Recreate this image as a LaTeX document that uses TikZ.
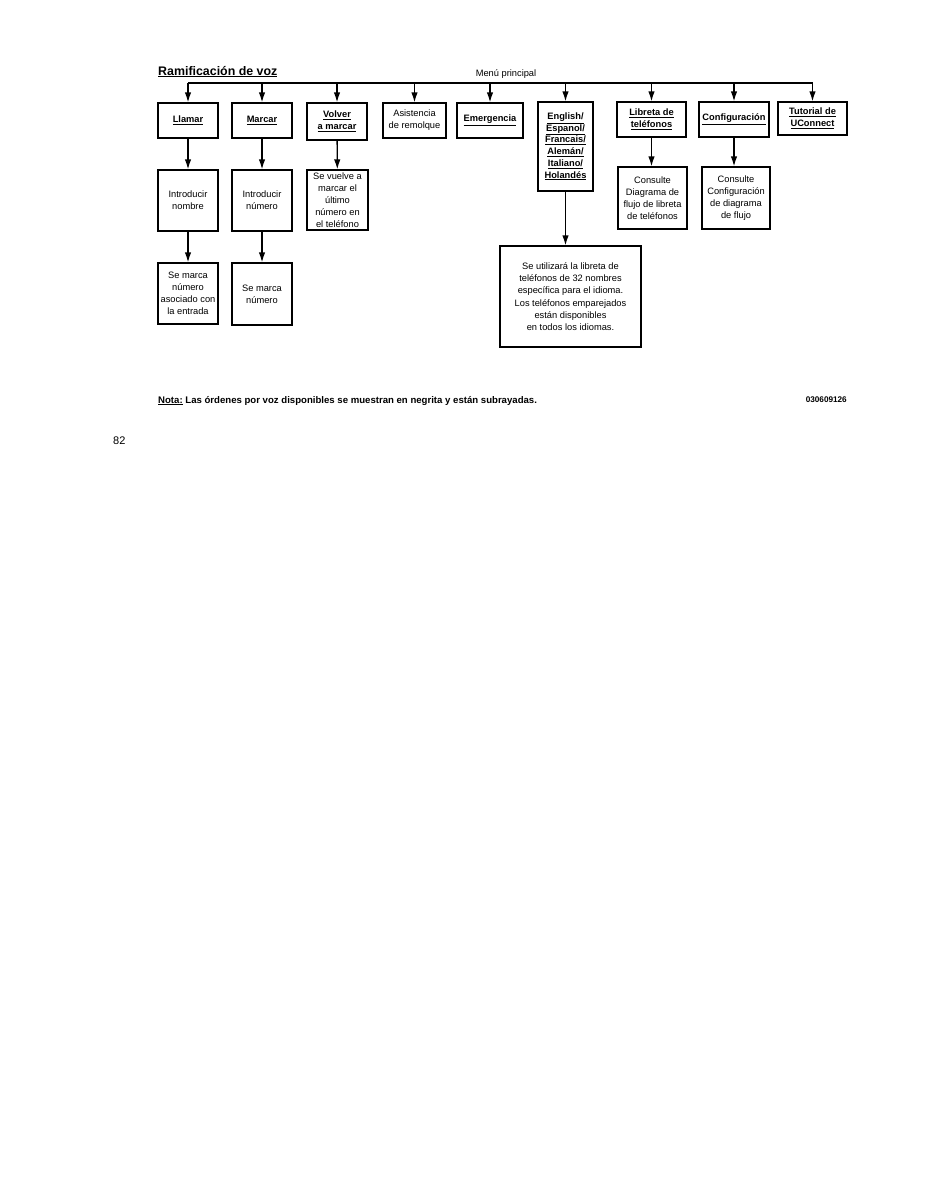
\documentclass[tikz,border=0pt]{standalone}
\usepackage{fontspec}
\setmainfont{Liberation Sans}
\usetikzlibrary{arrows.meta}
\begin{document}
\begin{tikzpicture}[x=1pt,y=-1pt,
  box/.style={draw,line width=1.3pt,align=center,inner sep=0pt,font=\fontsize{9.3}{12}\selectfont},
  bbox/.style={box,font=\fontsize{9.3}{11.7}\selectfont\bfseries},
  arr/.style={line width=1.3pt,-{Latex[length=10pt,width=6.5pt]}},
  ln/.style={line width=1.3pt}]
\useasboundingbox (0,0) rectangle (927,1200);
% title and labels
\node[anchor=base west,inner sep=0pt,font=\fontsize{12.4}{14}\selectfont\bfseries] (title) at (158,75) {\underline{Ramificación de voz}};
\node[anchor=base,inner sep=0pt,font=\fontsize{9.3}{10}\selectfont] (menu) at (506,76) {Menú principal};
% row 1
\node[bbox,minimum width=60,minimum height=35] (llamar) at (188,120.5) {\underline{Llamar}};
\node[bbox,minimum width=60,minimum height=35] (marcar) at (262,120.5) {\underline{Marcar}};
\node[bbox,minimum width=60,minimum height=37] (volver) at (337,121.5) {\underline{Volver}\\\underline{a marcar}};
\node[box,minimum width=63,minimum height=35] (asist) at (414.5,120.5) {Asistencia\\de remolque};
\node[bbox,minimum width=66,minimum height=35] (emerg) at (490,120.5) {\underline{Emergencia}};
\node[bbox,minimum width=55,minimum height=89] (idioma) at (565.5,146.5) {\underline{English/}\\\underline{Espanol/}\\\underline{Francais/}\\\underline{Alemán/}\\\underline{Italiano/}\\\underline{Holandés}};
\node[bbox,minimum width=69,minimum height=35] (libreta) at (651.5,119.5) {\underline{Libreta de}\\\underline{teléfonos}};
\node[bbox,minimum width=70,minimum height=35] (config) at (734,119.5) {\underline{Configuración}};
\node[bbox,minimum width=69,minimum height=33] (tutorial) at (812.5,118.5) {\underline{Tutorial de}\\\underline{UConnect}};
% row 2
\node[box,minimum width=60,minimum height=61] (intnom) at (188,200.5) {Introducir\\nombre};
\node[box,minimum width=60,minimum height=61] (intnum) at (262,200.5) {Introducir\\número};
\node[box,minimum width=61,minimum height=60] (vuelve) at (337.5,200) {Se vuelve a\\marcar el\\último\\número en\\el teléfono};
\node[box,minimum width=69,minimum height=62] (conslib) at (652.5,198) {Consulte\\Diagrama de\\flujo de libreta\\de teléfonos};
\node[box,minimum width=68,minimum height=62] (conscfg) at (736,198) {Consulte\\Configuración\\de diagrama\\de flujo};
% row 3
\node[box,minimum width=60,minimum height=61] (marcaent) at (188,293.5) {Se marca\\número\\asociado con\\la entrada};
\node[box,minimum width=60,minimum height=62] (marcanum) at (262,294) {Se marca\\número};
\node[box,minimum width=141,minimum height=101,font=\fontsize{9.3}{12.3}\selectfont] (libidioma) at (570.5,296.5) {Se utilizará la libreta de\\teléfonos de 32 nombres\\específica para el idioma.\\Los teléfonos emparejados\\están disponibles\\en todos los idiomas.};
% bus
\coordinate (bus) at (500,83);
\draw[ln] (llamar.north |- bus) -- (tutorial.north |- bus);
\foreach \n in {llamar,marcar,volver,asist,emerg,idioma,libreta,config,tutorial}
  \draw[arr] (\n.north |- bus) -- (\n.north);
% vertical arrows
\draw[arr] (llamar) -- (intnom);
\draw[arr] (intnom) -- (marcaent);
\draw[arr] (marcar) -- (intnum);
\draw[arr] (intnum) -- (marcanum);
\draw[arr] (volver) -- (vuelve);
\draw[arr] (libreta.south) -- (libreta.south |- conslib.north);
\draw[arr] (config.south) -- (config.south |- conscfg.north);
\draw[arr] (idioma.south) -- (idioma.south |- libidioma.north);
% footer
\node[anchor=base west,inner sep=0pt,font=\fontsize{9.6}{11}\selectfont\bfseries] (nota) at (158,403) {\underline{Nota:} Las órdenes por voz disponibles se muestran en negrita y están subrayadas.};
\node[anchor=base east,inner sep=0pt,font=\fontsize{8.2}{9}\selectfont\bfseries] (code) at (847,402) {030609126};
\node[anchor=base west,inner sep=0pt,font=\fontsize{11}{13}\selectfont] (page) at (113,444) {82};
\end{tikzpicture}
\end{document}
